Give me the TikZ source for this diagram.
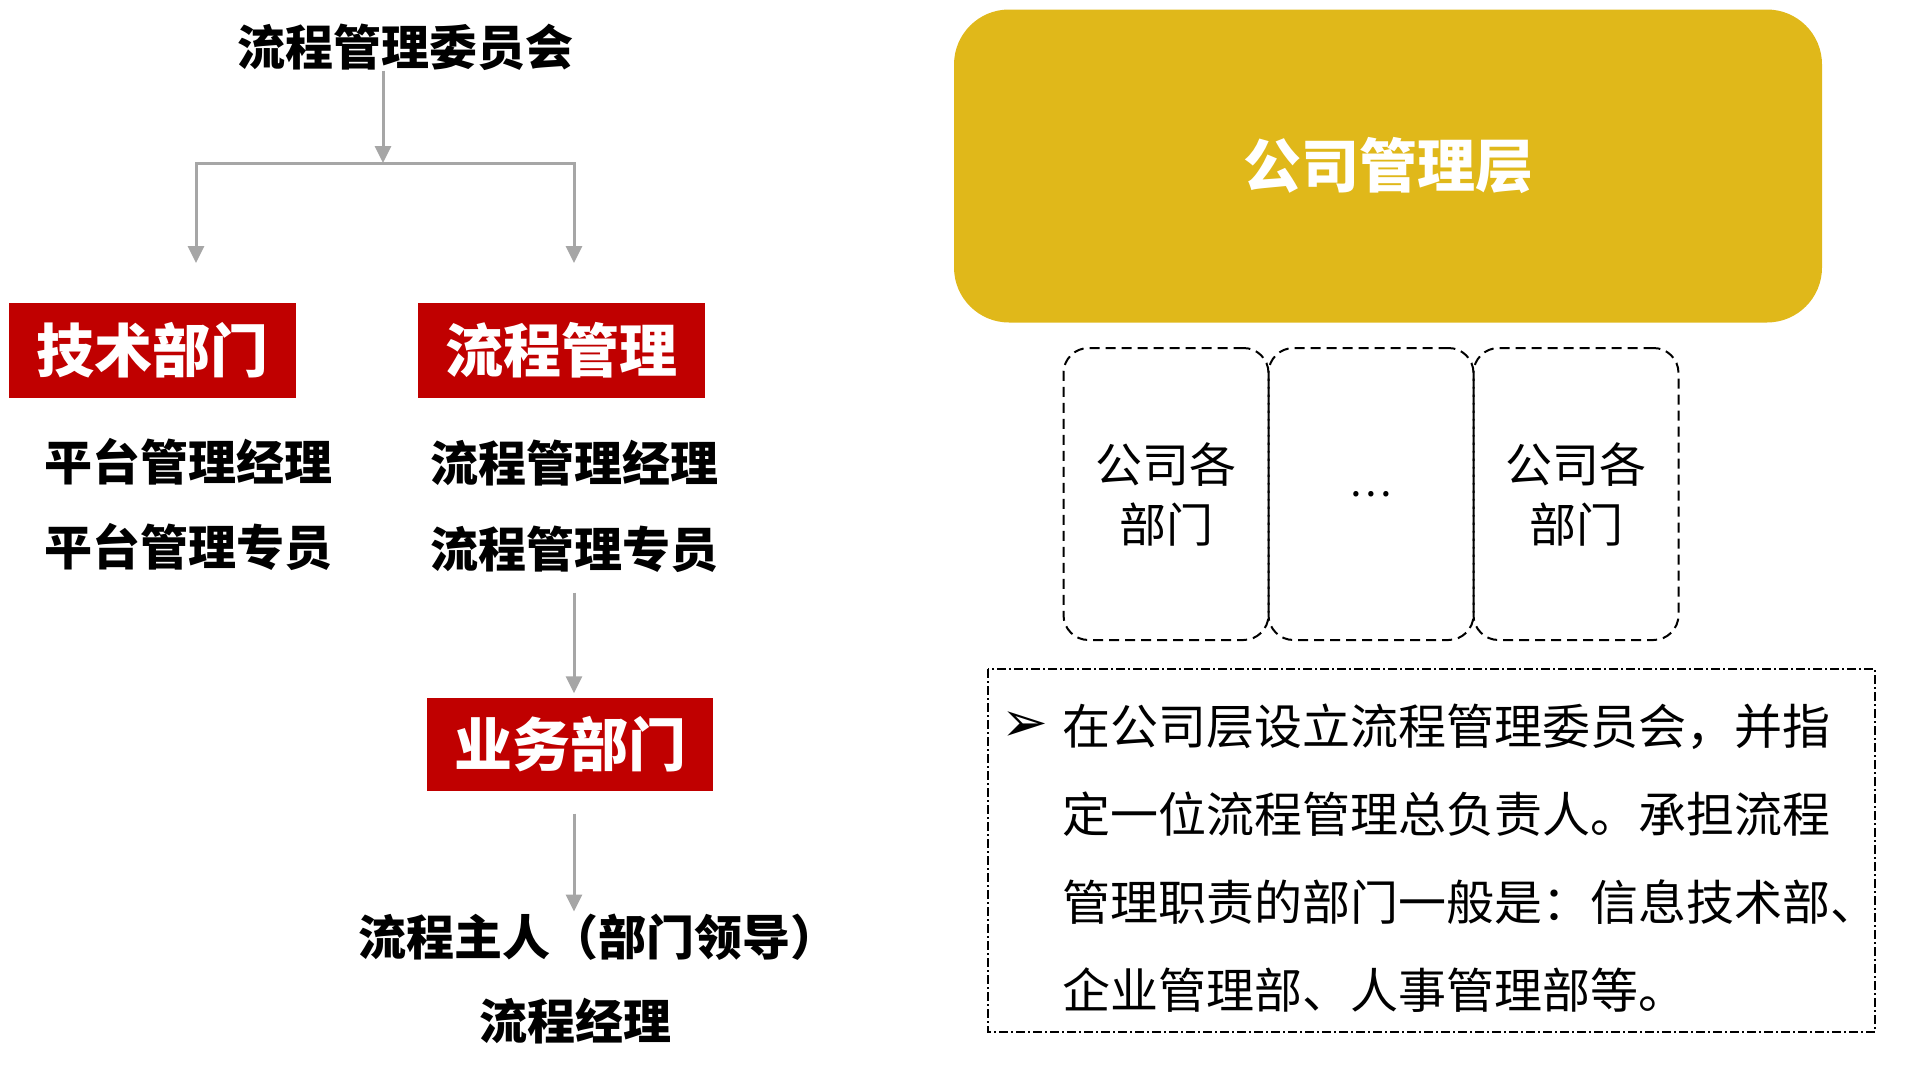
\documentclass[tikz,border=0pt]{standalone}
\usepackage{fontspec}
\setmainfont{Noto Sans CJK SC}
\newfontfamily\dingfont{DejaVu Sans}
\usetikzlibrary{arrows.meta, positioning, calc}
\definecolor{procred}{HTML}{C00000}
\definecolor{mgmtgold}{HTML}{E0B81A}
\definecolor{flowgray}{HTML}{A6A6A6}

\begin{document}
\begin{tikzpicture}[x=1pt, y=-1pt,
  flow/.style={-{Triangle[length=17pt,width=16pt]}, flowgray, line width=3pt},
  flowline/.style={flowgray, line width=3pt},
  redbox/.style={fill=procred, text=white, font=\fontsize{58}{62}\selectfont\bfseries,
                 minimum width=287pt, minimum height=95pt, inner sep=0pt},
  role/.style={font=\fontsize{48}{52}\selectfont\bfseries, inner sep=0pt},
  deptbox/.style={draw, line width=2pt, dash pattern=on 10pt off 6pt, rounded corners=25pt,
                  minimum width=205pt, minimum height=292pt, inner sep=0pt, align=center,
                  font=\fontsize{47}{60}\selectfont}]
  \useasboundingbox (0,0) rectangle (1920,1082);

  % left: process organisation
  \node[role] (board) at (405,47) {流程管理委员会};
  \coordinate (split) at (383,163);
  \coordinate (techin) at (196,263);
  \coordinate (procin) at (574,263);

  \node[redbox] (tech) at (152,350) {技术部门};
  \node[redbox] (proc) at (561,350) {流程管理};

  \node[role] (techmgr) at (188,462) {平台管理经理};
  \node[role] (techspec) at (188,547) {平台管理专员};
  \node[role] (procmgr) at (574,463) {流程管理经理};
  \node[role] (procspec) at (574,549) {流程管理专员};

  \node[redbox, minimum width=286pt, minimum height=93pt] (biz) at (570,744) {业务部门};
  \node[role] (owner) at (598,937) {流程主人（部门领导）};
  \node[role] (ownermgr) at (575,1021) {流程经理};

  \draw[flow] (board.south -| split) -- (split);
  \draw[flowline] (techin |- split) -- (procin |- split);
  \draw[flow] (split) -| (techin);
  \draw[flow] (split) -| (procin);
  \draw[flow, shorten <=20pt, shorten >=4pt] (procspec.south) -- (biz.north -| procspec);
  \draw[flow, shorten <=23pt, shorten >=2pt] (biz.south -| procspec) -- (owner.north -| procspec);

  % right: company level
  \node[fill=mgmtgold, rounded corners=55pt, minimum width=868pt, minimum height=313pt,
        text=white, font=\fontsize{58}{62}\selectfont\bfseries] (mgmt) at (1388,166) {公司管理层};

  \node[deptbox] (dept1) at (1166,494) {公司各\\部门};
  \node[deptbox, right=-2pt of dept1] (dept2) {};
  \node[deptbox, right=-2pt of dept2] (dept3) {公司各\\部门};
  \node[font=\fontsize{40}{40}\selectfont] (dots) at (dept2.center) {…};

  \draw[line width=1.5pt, dash pattern=on 9pt off 3pt on 2pt off 3pt] (988,669) rectangle (1875,1032);
  \node[font=\dingfont\fontsize{56}{56}\selectfont, inner sep=0pt] (bullet) at (1025,727) {➢};
  \node[anchor=base west, inner sep=0pt, align=left, font=\fontsize{48}{88}\selectfont] (note)
    at (1062,1008) {在公司层设立流程管理委员会，并指\\定一位流程管理总负责人。承担流程\\管理职责的部门一般是：信息技术部、\\企业管理部、人事管理部等。};
\end{tikzpicture}
\end{document}
